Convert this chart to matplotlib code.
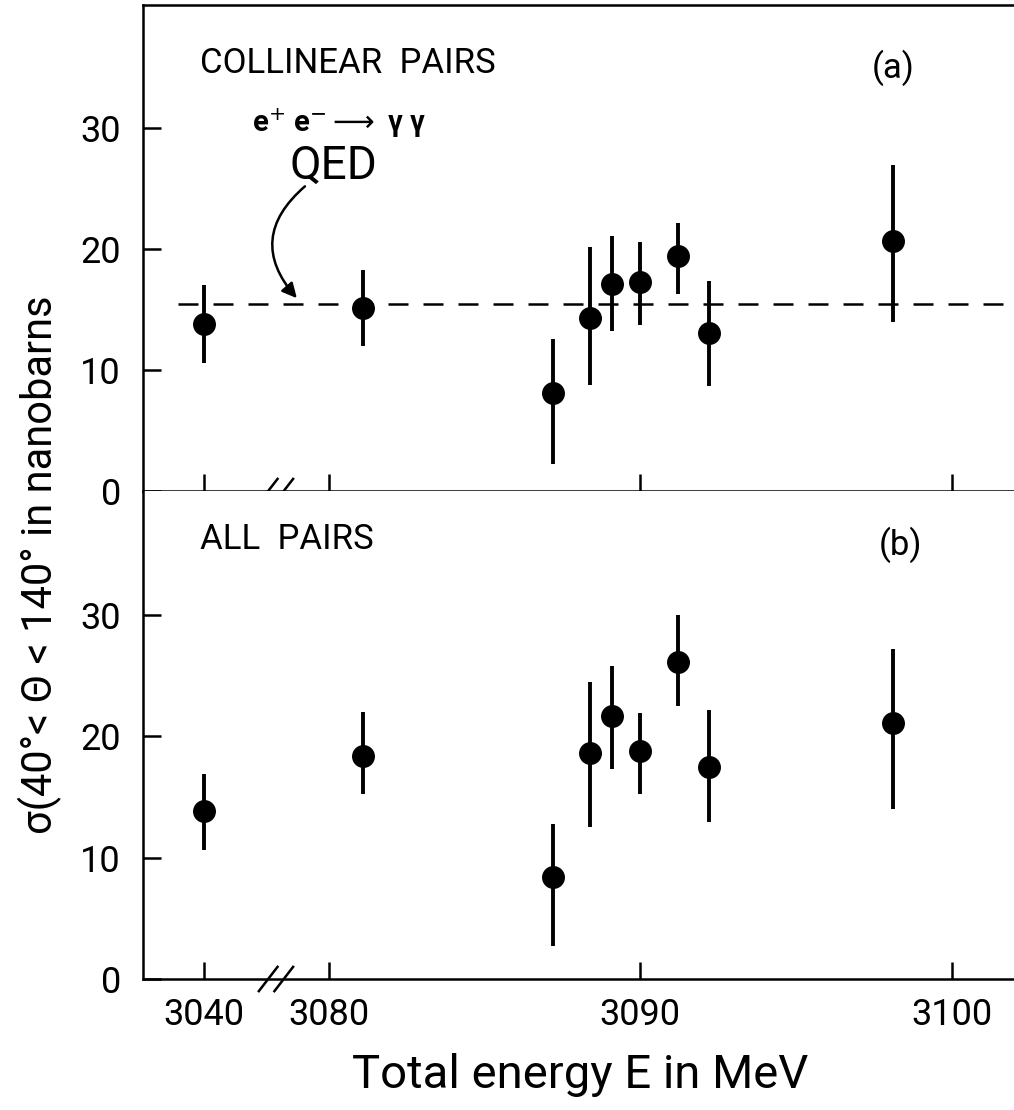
import matplotlib
matplotlib.use("Agg")
import matplotlib.pyplot as plt

plt.rcParams['font.family'] = ['Roboto', 'DejaVu Sans']
plt.rcParams['mathtext.fontset'] = 'dejavusans'

# ---------------- data ----------------
energy = [3040, 3081.1, 3087.2, 3088.4, 3089.1, 3090.0, 3091.2, 3092.2, 3098.1]

sigma_collinear = [13.8, 15.1, 8.1, 14.3, 17.1, 17.3, 19.4, 13.1, 20.7]
err_up_collinear = [3.2, 3.2, 4.5, 5.9, 4.0, 3.3, 2.8, 4.3, 6.3]
err_dn_collinear = [3.2, 3.1, 5.9, 5.5, 3.9, 3.6, 3.1, 4.4, 6.7]

sigma_all = [13.8, 18.4, 8.4, 18.6, 21.7, 18.8, 26.1, 17.5, 21.1]
err_up_all = [3.1, 3.6, 4.4, 5.9, 4.1, 3.1, 3.9, 4.7, 6.1]
err_dn_all = [3.2, 3.2, 5.7, 6.1, 4.4, 3.6, 3.6, 4.6, 7.1]

qed_level = 15.45

xtick_values = [3040, 3080, 3090, 3100]
xtick_labels = ["3040", "3080", "3090", "3100"]
ytick_values = [0, 10, 20, 30]

# broken axis: energies below the break are shifted right by this amount
BREAK_AT = 3078.3
BREAK_SHIFT = 36.0


def to_axis(e):
    return e + BREAK_SHIFT if e < BREAK_AT - 10 else e


# ---------------- figure ----------------
W, H = 1014, 1110
fig = plt.figure(figsize=(W / 100, H / 100), dpi=100)
left = 143 / W
ax1 = fig.add_axes([left, 1 - 491 / H, 1 - left, 486 / H])
ax2 = fig.add_axes([left, 1 - 979 / H, 1 - left, 488 / H], sharex=ax1)

xs = [to_axis(e) for e in energy]

for ax, sig, eu, ed in [(ax1, sigma_collinear, err_up_collinear, err_dn_collinear),
                        (ax2, sigma_all, err_up_all, err_dn_all)]:
    ax.errorbar(xs, sig, yerr=[ed, eu], fmt='o', color='black', ms=15.5,
                elinewidth=2.8, capsize=0, zorder=3)
    ax.set_ylim(0, 40.2)
    ax.set_yticks(ytick_values)
    ax.set_yticklabels([str(v) for v in ytick_values])
    ax.tick_params(axis='y', direction='in', length=13, width=1.8,
                   labelsize=26, pad=16)
    ax.tick_params(axis='x', direction='in', length=12, width=1.8,
                   labelsize=26, pad=13)
    for s in ['left', 'bottom', 'top']:
        ax.spines[s].set_linewidth(1.8)
    ax.spines['right'].set_visible(False)
    # break marks on the x axis
    for dx in (-0.25, 0.25):
        ax.plot([BREAK_AT + dx - 0.3, BREAK_AT + dx + 0.3], [-1.0, 1.0],
                color='black', lw=1.8, clip_on=False, zorder=4)

ax1.set_xlim(3074.03, 3102.0)
ax2.set_xticks([to_axis(v) for v in xtick_values])
ax2.set_xticklabels(xtick_labels)
ax1.tick_params(axis='x', labelbottom=False)
ax2.spines['top'].set_visible(False)

# QED line
ax1.plot([3075.15, 3102.0], [qed_level, qed_level], color='black', lw=1.8,
         dashes=(8, 6), zorder=2)

# texts
ax1.text(3075.86, 35.4, "COLLINEAR  PAIRS", fontsize=25, ha='left', va='center')
ax1.text(3098.11, 35.0, "(a)", fontsize=25, ha='center', va='center')
ax1.text(3077.53, 30.4, r"e$^{+}$ e$^{-}$$\longrightarrow$ γ γ", fontsize=21,
         ha='left', va='center', fontweight='bold')
ax1.text(3080.13, 26.9, "QED", fontsize=33, ha='center', va='center')
ax1.annotate("", xy=(3078.97, 15.95), xytext=(3079.23, 25.2),
             arrowprops=dict(arrowstyle='-|>', color='black', lw=1.8,
                             connectionstyle='arc3,rad=0.5',
                             mutation_scale=22, shrinkA=0, shrinkB=0))

ax2.text(3075.86, 36.2, "ALL  PAIRS", fontsize=25, ha='left', va='center')
ax2.text(3098.36, 35.8, "(b)", fontsize=25, ha='center', va='center')

fig.text(580 / W, 1 - 1075 / H, "Total energy E in MeV", fontsize=34,
         ha='center', va='center')
fig.text(40 / W, 1 - 565 / H, "σ(40°< Θ < 140° in nanobarns", fontsize=30,
         rotation=90, ha='center', va='center')

fig.savefig("out.png", dpi=100)
